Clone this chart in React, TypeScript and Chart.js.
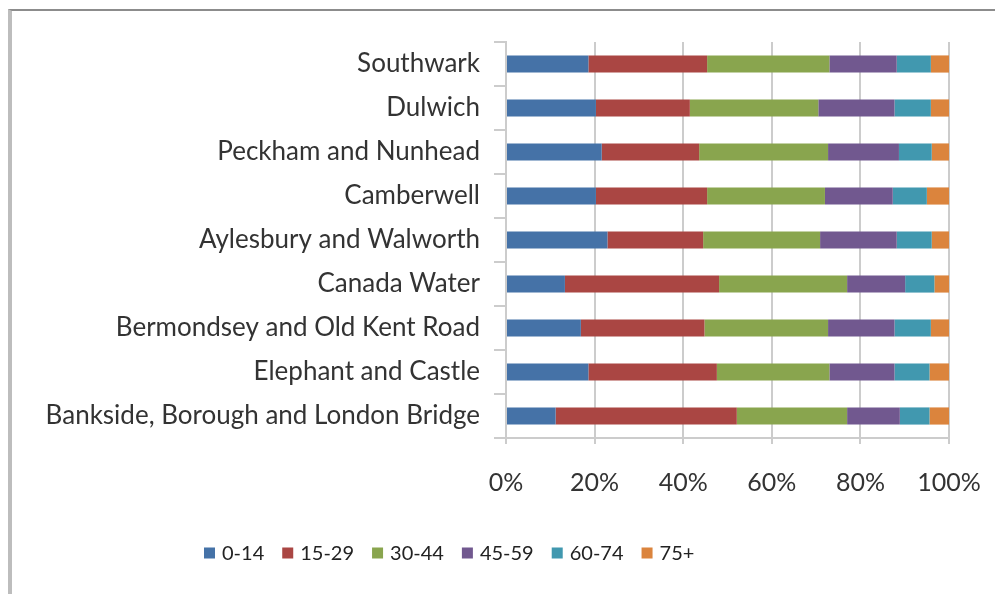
import React, { useEffect, useRef } from "react";
import { Chart, registerables } from "chart.js";

Chart.register(...registerables);

const categories = [
  "Southwark",
  "Dulwich",
  "Peckham and Nunhead",
  "Camberwell",
  "Aylesbury and Walworth",
  "Canada Water",
  "Bermondsey and Old Kent Road",
  "Elephant and Castle",
  "Bankside, Borough and London Bridge",
];

const age0_14 = [18.6, 20.3, 21.6, 20.3, 22.9, 13.3, 16.9, 18.6, 11.2];
const age15_29 = [26.8, 21.2, 22.0, 25.1, 21.6, 34.8, 27.9, 29.0, 40.9];
const age30_44 = [27.6, 29.0, 29.1, 26.6, 26.4, 28.9, 27.9, 25.4, 24.9];
const age45_59 = [15.2, 17.2, 16.0, 15.3, 17.3, 13.1, 15.0, 14.7, 11.9];
const age60_74 = [7.7, 8.2, 7.4, 7.7, 7.9, 6.6, 8.2, 7.9, 6.7];
const age75plus = [4.1, 4.1, 3.9, 5.0, 3.9, 3.3, 4.1, 4.4, 4.4];

const seriesNames = ["0-14", "15-29", "30-44", "45-59", "60-74", "75+"];
const seriesColors = ["#4572A7", "#AA4643", "#89A54E", "#71588F", "#4198AF", "#DB843D"];
const xTicks = [0, 20, 40, 60, 80, 100];

const FONT = "Lato, 'Liberation Sans', sans-serif";

const bottomLegend = {
  id: "bottomLegend",
  afterDraw(chart: any) {
    const ctx = chart.ctx;
    const ds = chart.data.datasets;
    ctx.save();
    ctx.font = `20px ${FONT}`;
    ctx.textBaseline = "middle";
    ctx.textAlign = "left";
    const box = 11;
    const cy = 553;
    let x = 204;
    ds.forEach((d: any) => {
      ctx.fillStyle = d.backgroundColor;
      ctx.fillRect(x, cy - box / 2, box, box);
      x += box + 7;
      ctx.fillStyle = "#222";
      ctx.fillText(d.label, x, cy + 1);
      x += ctx.measureText(d.label).width + 18;
    });
    ctx.restore();
  },
};

export default function App() {
  const ref = useRef<HTMLCanvasElement | null>(null);

  useEffect(() => {
    if (!ref.current) return;
    const values = [age0_14, age15_29, age30_44, age45_59, age60_74, age75plus];
    const chart = new Chart(ref.current, {
      type: "bar",
      data: {
        labels: categories,
        datasets: values.map((v, i) => ({
          label: seriesNames[i],
          data: v,
          backgroundColor: seriesColors[i],
          borderWidth: 0,
          categoryPercentage: 1,
          barPercentage: 0.39,
        })),
      },
      options: {
        indexAxis: "y",
        animation: false,
        responsive: false,
        maintainAspectRatio: false,
        layout: { padding: { left: 0, right: 46, top: 42, bottom: 0 } },
        plugins: {
          tooltip: { enabled: false },
          legend: { display: false },
        },
        scales: {
          x: {
            stacked: true,
            min: 0,
            max: 100,
            afterBuildTicks: (s: any) => {
              s.ticks = xTicks.map((v) => ({ value: v }));
            },
            afterFit: (s: any) => {
              s.height = 156;
              s.paddingRight = 0;
              s.paddingLeft = 0;
            },
            ticks: {
              color: "#333",
              padding: 24,
              font: { family: FONT, size: 25 },
              callback: (v: any) => v + "%",
            },
            grid: {
              color: "#cccccc",
              lineWidth: 2,
              tickLength: 6,
            },
            border: { display: true, color: "#cccccc", width: 2 },
          },
          y: {
            stacked: true,
            afterFit: (s: any) => {
              s.width = 506;
            },
            ticks: {
              color: "#333",
              padding: 14,
              font: { family: FONT, size: 26 },
            },
            grid: {
              offset: true,
              drawOnChartArea: false,
              tickLength: 12,
              color: "#cccccc",
              lineWidth: 2,
            },
            border: { display: true, color: "#cccccc", width: 2 },
          },
        },
      },
      plugins: [bottomLegend],
    });
    return () => chart.destroy();
  }, []);

  return (
    <div style={{ position: "fixed", left: 0, top: 0, width: 995, height: 594, background: "#fff" }}>
      <div
        style={{
          position: "absolute",
          left: 8,
          top: 9,
          right: 0,
          bottom: 0,
          borderTop: "2px solid #8c8c8c",
          borderLeft: "4px solid #bdbdbd",
        }}
      />
      <canvas ref={ref} width={995} height={594} style={{ position: "absolute", left: 0, top: 0 }} />
    </div>
  );
}
